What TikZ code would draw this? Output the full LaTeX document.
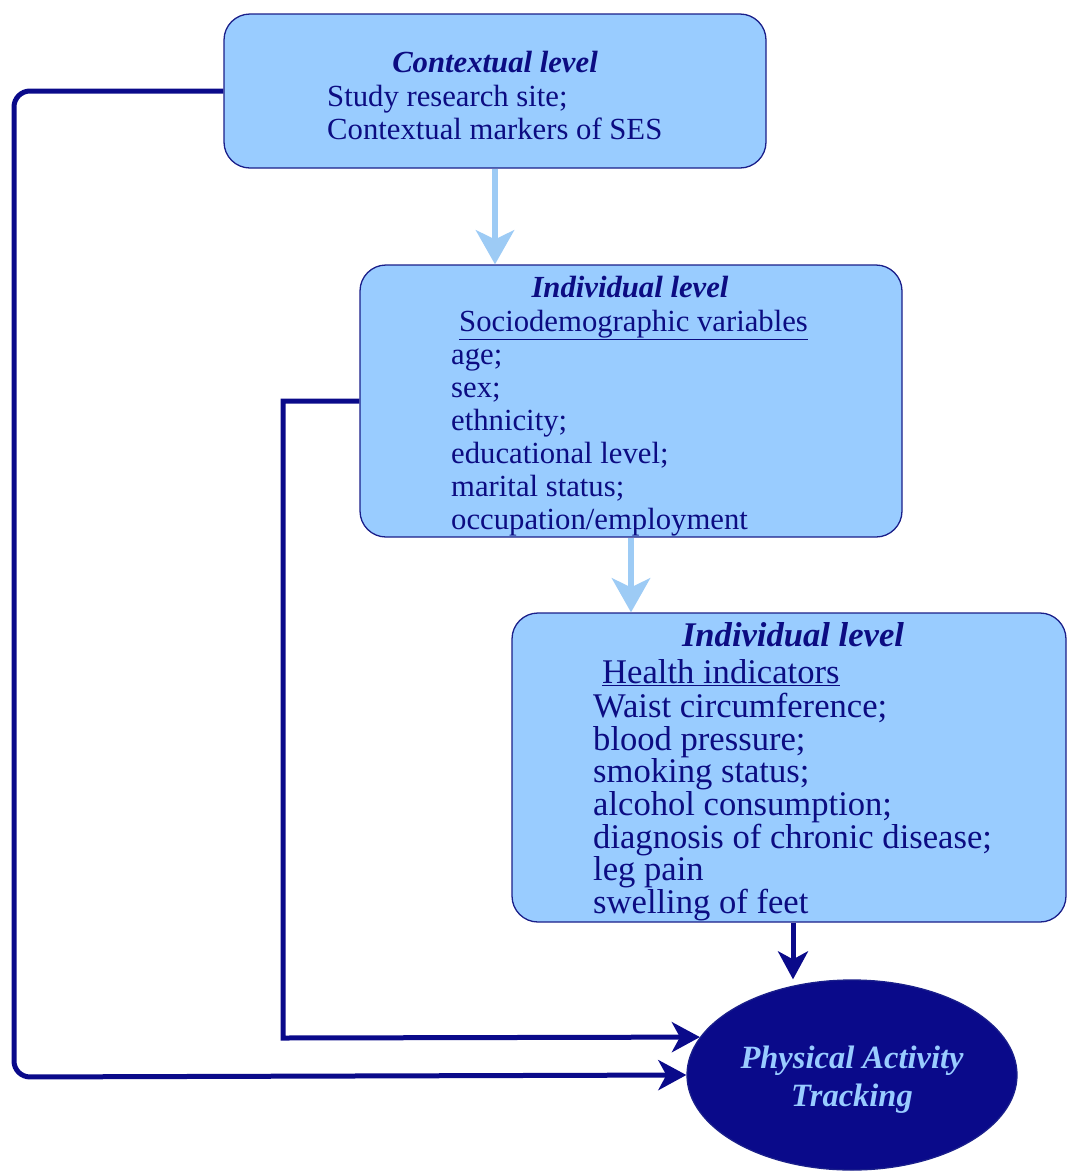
\documentclass[tikz,border=0pt]{standalone}
\usepackage{fontspec}
\setmainfont{Liberation Serif}
\usetikzlibrary{arrows.meta,shapes.geometric}
\definecolor{boxfill}{HTML}{99CCFF}
\definecolor{navyline}{HTML}{1A1F8A}
\definecolor{txtnavy}{HTML}{0C0C82}
\definecolor{lightarr}{HTML}{9DCBF5}
\definecolor{ellfill}{HTML}{0A0A8A}
\begin{document}
\begin{tikzpicture}[x=1pt,y=-1pt,
  box/.style={draw=navyline, line width=1.3pt, fill=boxfill, rounded corners=26pt, inner sep=0pt},
  bodyA/.style={text=txtnavy, anchor=base west, inner sep=0pt, font=\fontsize{30.7}{33}\selectfont},
  titleA/.style={text=txtnavy, anchor=base, inner sep=0pt, font=\fontsize{30.7}{33}\selectfont\bfseries\itshape},
  bodyB/.style={text=txtnavy, anchor=base west, inner sep=0pt, font=\fontsize{34.6}{33}\selectfont},
  titleB/.style={text=txtnavy, anchor=base, inner sep=0pt, font=\fontsize{34.6}{33}\selectfont\bfseries\itshape},
  conn/.style={draw=ellfill, line width=5pt, -{Stealth[length=28pt,width=30pt,inset=8pt]}},
  lconn/.style={draw=lightarr, line width=6.5pt, -{Stealth[length=34pt,width=38pt,inset=9pt]}}
]
\useasboundingbox (0,0) rectangle (1067,1171);

% boxes
\node[box, minimum width=542pt, minimum height=154pt] (ctx) at (495,91) {};
\node[box, minimum width=542pt, minimum height=272pt] (soc) at (631,401) {};
\node[box, minimum width=554pt, minimum height=309pt] (hlth) at (789,767.5) {};
\node[ellipse, draw=navyline, line width=1.3pt, fill=ellfill, minimum width=330pt, minimum height=190pt, inner sep=0pt] (pat) at (852,1075) {};

% box 1 text
\node[titleA] (t1) at (495,72) {Contextual level};
\node[bodyA] (t1a) at (327,106) {Study research site;};
\node[bodyA] (t1b) at (327,139) {Contextual markers of SES};

% box 2 text
\node[titleA] (t2) at (630,297) {Individual level};
\node[bodyA] (t2h) at (459,331) {\underline{Sociodemographic variables}};
\node[bodyA] (t2a) at (451,364) {age;};
\node[bodyA] (t2b) at (451,397) {sex;};
\node[bodyA] (t2c) at (451,430) {ethnicity;};
\node[bodyA] (t2d) at (451,463) {educational level;};
\node[bodyA] (t2e) at (451,496) {marital status;};
\node[bodyA] (t2f) at (451,529) {occupation/employment};

% box 3 text
\node[titleB] (t3) at (793,646) {Individual level};
\node[bodyB] (t3h) at (602,683) {\underline{Health indicators}};
\node[bodyB] (t3a) at (593,717) {Waist circumference;};
\node[bodyB] (t3b) at (593,750) {blood pressure;};
\node[bodyB] (t3c) at (593,782) {smoking status;};
\node[bodyB] (t3d) at (593,815) {alcohol consumption;};
\node[bodyB] (t3e) at (593,848) {diagnosis of chronic disease;};
\node[bodyB] (t3f) at (593,880) {leg pain};
\node[bodyB] (t3g) at (593,913) {swelling of feet};

% ellipse text
\node[text=boxfill, anchor=base, inner sep=0pt, font=\fontsize{32.5}{38}\selectfont\bfseries\itshape] (pa1) at (852,1068) {Physical Activity};
\node[text=boxfill, anchor=base, inner sep=0pt, font=\fontsize{32.5}{38}\selectfont\bfseries\itshape] (pa2) at (852,1106) {Tracking};

% light arrows
\draw[lconn] (ctx.south) -- (ctx.south |- soc.north);
\draw[lconn] (soc.south) -- (soc.south |- hlth.north);

% dark connectors
\draw[conn] (hlth.south -| 793,0) -- (pat.north -| 793,0);
\draw[conn] (soc.west) -- (283,401) -- (283,1038) -- (pat.166.3);
\draw[conn, rounded corners=16pt] (ctx.west) -- (14,91) -- (14,1077) -- (pat.west);
\end{tikzpicture}
\end{document}
